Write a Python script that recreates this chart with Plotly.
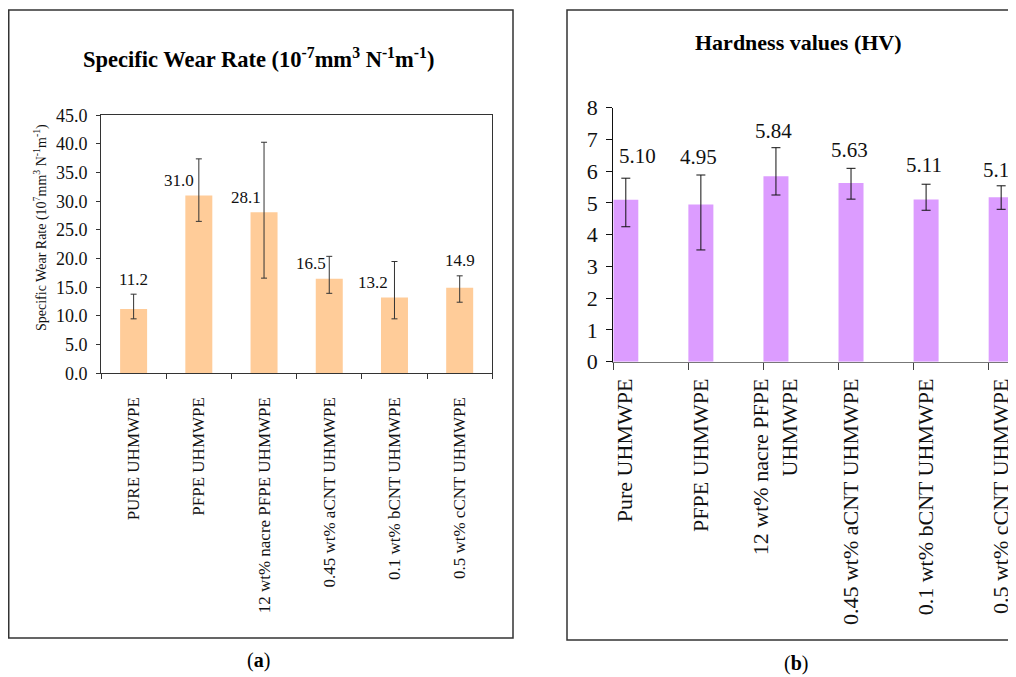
import plotly.graph_objects as go

# ---------------- data ----------------
wear_categories = ["PURE UHMWPE", "PFPE UHMWPE", "12 wt% nacre PFPE UHMWPE",
                   "0.45 wt% aCNT UHMWPE", "0.1 wt% bCNT UHMWPE", "0.5 wt% cCNT UHMWPE"]
wear_values = [11.2, 31.0, 28.1, 16.5, 13.2, 14.9]
wear_err_plus = [2.6, 6.4, 12.2, 3.9, 6.3, 2.1]
wear_err_minus = [1.7, 4.5, 11.5, 2.55, 3.7, 2.5]
wear_labels = ["11.2", "31.0", "28.1", "16.5", "13.2", "14.9"]

hard_categories = ["Pure UHMWPE", "PFPE UHMWPE", "12 wt% nacre PFPE<br>UHMWPE",
                   "0.45 wt% aCNT UHMWPE", "0.1 wt% bCNT UHMWPE", "0.5 wt% cCNT UHMWPE"]
hard_values = [5.10, 4.95, 5.84, 5.63, 5.11, 5.18]
hard_err_plus = [0.68, 0.93, 0.90, 0.46, 0.48, 0.36]
hard_err_minus = [0.85, 1.43, 0.59, 0.51, 0.34, 0.38]
hard_labels = ["5.10", "4.95", "5.84", "5.63", "5.11", "5.18"]

# ---------------- label styling (placement offsets) ----------------
wear_label_above_error = [True, False, False, False, False, True]
wear_label_xshift = [0, -20, -18, -18, -21, 0]
hard_label_xshift = [12, -2, -2, -2, -2, 0]
hard_label_yshift = [22, 18, 17, 18, 19, 16]

# page body has an 8px margin; figure sized so that page == window
OFF = 8
W, H = 1016 - OFF, 677 - OFF
FONT = "Liberation Serif, Times New Roman, serif"


def px(x):
    return (x - OFF) / W


def py(y):
    return 1 - (y - OFF) / H


fig = go.Figure()

fig.add_trace(go.Bar(
    x=wear_categories, y=wear_values, width=0.414,
    marker=dict(color="#FFCC99", line=dict(width=0)),
    error_y=dict(type="data", symmetric=False, array=wear_err_plus,
                 arrayminus=wear_err_minus, color="#333333", thickness=1, width=3),
    xaxis="x", yaxis="y", showlegend=False,
))

fig.add_trace(go.Bar(
    x=hard_categories, y=hard_values, width=0.333, offset=0,
    marker=dict(color="#DC9CFF", line=dict(width=0)),
    error_y=dict(type="data", symmetric=False, array=hard_err_plus,
                 arrayminus=hard_err_minus, color="#111111", thickness=1, width=4.5),
    xaxis="x2", yaxis="y2", showlegend=False,
))

annotations = []
# left value labels
for i, (v, lab) in enumerate(zip(wear_values, wear_labels)):
    yv = v + wear_err_plus[i] if wear_label_above_error[i] else v
    annotations.append(dict(
        x=i, y=yv, xref="x", yref="y", text=lab, showarrow=False,
        xanchor="center", yanchor="middle",
        xshift=wear_label_xshift[i], yshift=15,
        font=dict(family=FONT, size=17, color="#111111")))
# right value labels
for i, (v, lab) in enumerate(zip(hard_values, hard_labels)):
    annotations.append(dict(
        x=i + 1 / 6, y=v + hard_err_plus[i], xref="x2", yref="y2", text=lab,
        showarrow=False, xanchor="center", yanchor="middle",
        xshift=hard_label_xshift[i], yshift=hard_label_yshift[i],
        font=dict(family=FONT, size=21, color="#111111")))

# titles
annotations.append(dict(
    x=px(258), y=py(58), xref="paper", yref="paper", xanchor="center", yanchor="middle",
    text="<b>Specific Wear Rate (10<sup>-7</sup>mm<sup>3</sup> N<sup>-1</sup>m<sup>-1</sup>)</b>",
    showarrow=False, font=dict(family=FONT, size=22.5, color="#000000")))
annotations.append(dict(
    x=px(798), y=py(43), xref="paper", yref="paper", xanchor="center", yanchor="middle",
    text="<b>Hardness values (HV)</b>",
    showarrow=False, font=dict(family=FONT, size=22, color="#000000")))
# left y-axis title
annotations.append(dict(
    x=px(40), y=py(228), xref="paper", yref="paper", textangle=-90,
    xanchor="center", yanchor="middle",
    text="Specific Wear Rate (10<sup>7</sup>mm<sup>3</sup> N<sup>-1</sup>m<sup>-1</sup>)",
    showarrow=False, font=dict(family=FONT, size=14, color="#111111")))
# panel letters
annotations.append(dict(
    x=px(258), y=py(660), xref="paper", yref="paper", text="(<b>a</b>)",
    xanchor="center", yanchor="middle",
    showarrow=False, font=dict(family=FONT, size=20, color="#000000")))
annotations.append(dict(
    x=px(796), y=py(663), xref="paper", yref="paper", text="(<b>b</b>)",
    xanchor="center", yanchor="middle",
    showarrow=False, font=dict(family=FONT, size=20, color="#000000")))

shapes = [
    dict(type="rect", xref="paper", yref="paper", x0=px(8.75), x1=px(513), y0=py(638), y1=py(10),
         line=dict(color="#333333", width=1.5), fillcolor="rgba(0,0,0,0)"),
    dict(type="rect", xref="paper", yref="paper", x0=px(567), x1=px(1030), y0=py(640), y1=py(10),
         line=dict(color="#333333", width=1.5), fillcolor="rgba(0,0,0,0)"),
]

fig.update_layout(
    width=W, height=H, margin=dict(l=0, r=0, t=0, b=0, pad=0, autoexpand=False),
    paper_bgcolor="white", plot_bgcolor="white",
    font=dict(family=FONT, color="#111111"),
    annotations=annotations, shapes=shapes,
    xaxis=dict(domain=[px(101), px(492.3)], type="category", range=[-0.5, 5.5],
               tickson="boundaries", ticks="outside", ticklen=5, tickcolor="#333333",
               showline=True, linecolor="#333333", linewidth=1, mirror=True,
               tickangle=-90, tickfont=dict(family=FONT, size=17, color="#111111"),
               ticklabelstandoff=16,
               showgrid=False, zeroline=False, fixedrange=True, automargin=False),
    yaxis=dict(domain=[py(373.3), py(115.3)], range=[0, 45], dtick=5, tickformat=".1f",
               ticks="outside", ticklen=4, tickcolor="#333333",
               showline=True, linecolor="#333333", linewidth=1, mirror=True,
               tickfont=dict(family=FONT, size=18, color="#111111"),
               ticklabelstandoff=5,
               showgrid=False, zeroline=False, fixedrange=True, automargin=False),
    xaxis2=dict(domain=[px(613.3), 1.0], type="category", range=[0, 5.364],
                ticks="outside", ticklen=7, tickcolor="#444444",
                showline=True, linecolor="#777777", linewidth=1.2,
                tickangle=-90, tickfont=dict(family=FONT, size=22, color="#111111"),
                ticklabelshift=12,
                showgrid=False, zeroline=False, fixedrange=True, anchor="y2",
                automargin=False),
    yaxis2=dict(domain=[py(361.7), py(107.7)], range=[0, 8], dtick=1,
                ticks="outside", ticklen=6, tickcolor="#111111",
                showline=True, linecolor="#111111", linewidth=1.2,
                tickfont=dict(family=FONT, size=22, color="#111111"),
                ticklabelstandoff=4,
                showgrid=False, zeroline=False, fixedrange=True, anchor="x2",
                automargin=False),
    bargap=0.5,
)

fig.write_html("out.html")
